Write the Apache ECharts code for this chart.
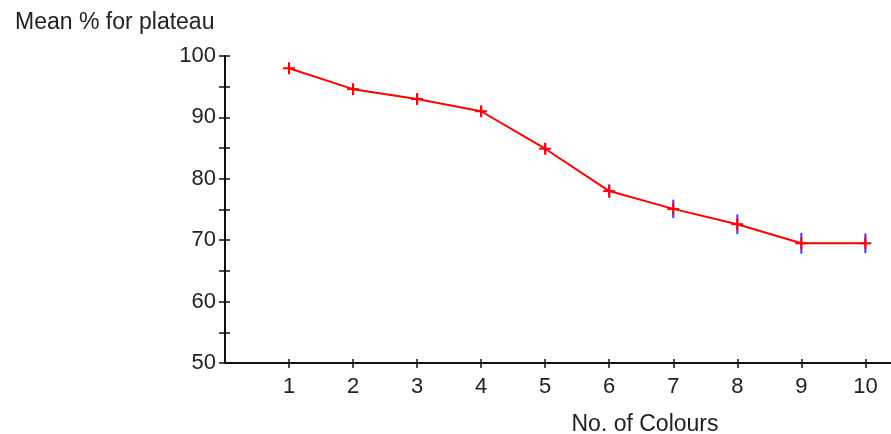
<!DOCTYPE html>
<html>
<head>
<meta charset="utf-8">
<script src="https://cdn.jsdelivr.net/npm/echarts@6/dist/echarts.min.js"></script>
<style>
html,body{margin:0;padding:0;background:#fff;}
#chart{width:891px;height:434px;}
</style>
</head>
<body>
<div id="chart"></div>
<script>
const colours = [1, 2, 3, 4, 5, 6, 7, 8, 9, 10];
const meanPct = [98, 94.6, 93, 91, 84.9, 78, 75.1, 72.6, 69.5, 69.5];
const errPct = [0.8, 0.8, 0.8, 0.8, 0.9, 1.1, 1.5, 1.6, 1.7, 1.6];
const yTicks = [50, 60, 70, 80, 90, 100];
const xTicks = [1, 2, 3, 4, 5, 6, 7, 8, 9, 10];

const FONT = 'Liberation Sans';
const TXT = '#222';
const pts = colours.map((c, i) => [c, meanPct[i], errPct[i]]);

const chart = echarts.init(document.getElementById('chart'), null, {renderer: 'canvas'});
const axisLine = {show: true, lineStyle: {color: '#111', width: 2}};
chart.setOption({
  animation: false,
  backgroundColor: '#fff',
  title: [
    {text: 'Mean % for plateau', left: 10, top: 6,
     textStyle: {fontFamily: FONT, fontSize: 23, fontWeight: 'normal', color: TXT}},
    {text: 'No. of Colours', left: 640, top: 408, textAlign: 'center',
     textStyle: {fontFamily: FONT, fontSize: 23, fontWeight: 'normal', color: TXT}}
  ],
  grid: {left: 225, top: 56, right: 0, bottom: 71, containLabel: false},
  xAxis: [
    {type: 'value', min: 0, max: 10.4, interval: 1,
     axisLine: axisLine,
     axisTick: {show: true, length: 5, inside: false, customValues: xTicks, lineStyle: {color: '#111', width: 1.5}},
     axisLabel: {customValues: xTicks, margin: 13, fontFamily: FONT, fontSize: 22, color: TXT},
     splitLine: {show: false}},
    {type: 'value', min: 0, max: 10.4, position: 'bottom',
     axisLine: {show: false},
     axisTick: {show: true, length: 4, inside: true, customValues: xTicks, lineStyle: {color: '#111', width: 1.5}},
     axisLabel: {show: false}, splitLine: {show: false}}
  ],
  yAxis: [
    {type: 'value', min: 50, max: 100, interval: 5,
     axisLine: axisLine,
     axisTick: {show: true, length: 6, inside: false, lineStyle: {color: '#111', width: 1.5}},
     axisLabel: {margin: 9, fontFamily: FONT, fontSize: 22, color: TXT,
       formatter: v => (yTicks.indexOf(v) >= 0 ? String(v) : '')},
     splitLine: {show: false}},
    {type: 'value', min: 50, max: 100, interval: 5, position: 'left',
     axisLine: {show: false},
     axisTick: {show: true, length: 5, inside: true, lineStyle: {color: '#111', width: 1.5}},
     axisLabel: {show: false}, splitLine: {show: false}}
  ],
  series: [
    {type: 'custom', z: 2, data: pts,
     renderItem: (params, api) => {
       const top = api.coord([api.value(0), api.value(1) + api.value(2)]);
       const bot = api.coord([api.value(0), api.value(1) - api.value(2)]);
       return {type: 'line', shape: {x1: top[0], y1: top[1], x2: bot[0], y2: bot[1]},
               style: {stroke: '#3a3aff', lineWidth: 2}};
     }},
    {type: 'line', z: 3, data: pts.map(p => [p[0], p[1]]), symbol: 'none',
     lineStyle: {color: '#ff0000', width: 2}},
    {type: 'custom', z: 4, data: pts,
     renderItem: (params, api) => {
       const c = api.coord([api.value(0), api.value(1)]);
       return {type: 'group', children: [
         {type: 'line', shape: {x1: c[0] - 6, y1: c[1], x2: c[0] + 6, y2: c[1]}, style: {stroke: '#ff0000', lineWidth: 2}},
         {type: 'line', shape: {x1: c[0], y1: c[1] - 6, x2: c[0], y2: c[1] + 6}, style: {stroke: '#ff0000', lineWidth: 2}}
       ]};
     }}
  ]
});
</script>
</body>
</html>
